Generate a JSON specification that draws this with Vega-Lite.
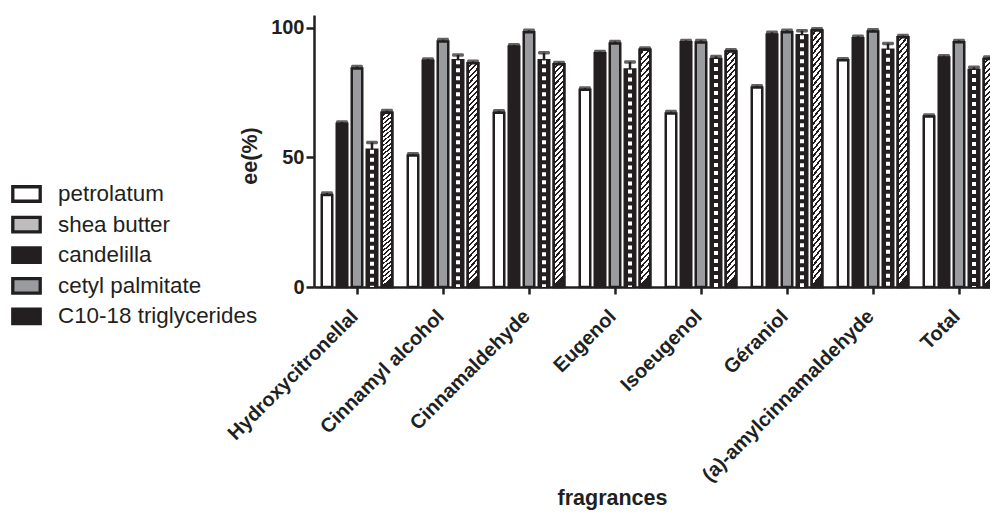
{
  "$schema": "https://vega.github.io/schema/vega-lite/v6.json",
  "width": 676,
  "height": 272,
  "autosize": {"type": "none"},
  "padding": {"left": 314, "top": 15, "right": 0, "bottom": 228},
  "background": "white",
  "config": {
    "view": {"stroke": null},
    "font": "Liberation Sans",
    "legend": {"symbolStrokeWidth": 3.3},
    "axis": {
      "grid": false,
      "domainColor": "#231f20",
      "domainWidth": 2.5,
      "tickColor": "#231f20",
      "tickWidth": 2.5,
      "labelFont": "Liberation Sans",
      "labelFontWeight": "bold",
      "labelFontSize": 20,
      "labelColor": "#231f20",
      "titleFont": "Liberation Sans",
      "titleFontWeight": "bold",
      "titleFontSize": 21.5,
      "titleColor": "#231f20"
    }
  },
  "data": {
    "values": [
      {"fragrance": "Hydroxycitronellal", "material": "petrolatum", "ee": 35.5, "upper": 36.3},
      {"fragrance": "Hydroxycitronellal", "material": "candelilla", "ee": 63, "upper": 63.7},
      {"fragrance": "Hydroxycitronellal", "material": "cetyl palmitate", "ee": 84.3, "upper": 85.1},
      {"fragrance": "Hydroxycitronellal", "material": "C10-18 triglycerides", "ee": 53, "upper": 55.8},
      {"fragrance": "Hydroxycitronellal", "material": "shea butter", "ee": 67.3, "upper": 68.1},
      {"fragrance": "Cinnamyl alcohol", "material": "petrolatum", "ee": 50.8, "upper": 51.4},
      {"fragrance": "Cinnamyl alcohol", "material": "candelilla", "ee": 87.3, "upper": 88},
      {"fragrance": "Cinnamyl alcohol", "material": "cetyl palmitate", "ee": 94.8, "upper": 95.5},
      {"fragrance": "Cinnamyl alcohol", "material": "C10-18 triglycerides", "ee": 87.5, "upper": 89.6},
      {"fragrance": "Cinnamyl alcohol", "material": "shea butter", "ee": 86.4, "upper": 87.1},
      {"fragrance": "Cinnamaldehyde", "material": "petrolatum", "ee": 67.3, "upper": 68},
      {"fragrance": "Cinnamaldehyde", "material": "candelilla", "ee": 92.8, "upper": 93.5},
      {"fragrance": "Cinnamaldehyde", "material": "cetyl palmitate", "ee": 98.3, "upper": 99.1},
      {"fragrance": "Cinnamaldehyde", "material": "C10-18 triglycerides", "ee": 87.5, "upper": 90.4},
      {"fragrance": "Cinnamaldehyde", "material": "shea butter", "ee": 86, "upper": 86.7},
      {"fragrance": "Eugenol", "material": "petrolatum", "ee": 76.1, "upper": 76.8},
      {"fragrance": "Eugenol", "material": "candelilla", "ee": 90.2, "upper": 90.9},
      {"fragrance": "Eugenol", "material": "cetyl palmitate", "ee": 94, "upper": 94.8},
      {"fragrance": "Eugenol", "material": "C10-18 triglycerides", "ee": 84, "upper": 86.9},
      {"fragrance": "Eugenol", "material": "shea butter", "ee": 91.6, "upper": 92.3},
      {"fragrance": "Isoeugenol", "material": "petrolatum", "ee": 67, "upper": 67.7},
      {"fragrance": "Isoeugenol", "material": "candelilla", "ee": 94.5, "upper": 95.2},
      {"fragrance": "Isoeugenol", "material": "cetyl palmitate", "ee": 94.4, "upper": 95.2},
      {"fragrance": "Isoeugenol", "material": "C10-18 triglycerides", "ee": 88, "upper": 89},
      {"fragrance": "Isoeugenol", "material": "shea butter", "ee": 90.9, "upper": 91.6},
      {"fragrance": "Géraniol", "material": "petrolatum", "ee": 77, "upper": 77.7},
      {"fragrance": "Géraniol", "material": "candelilla", "ee": 97.5, "upper": 98.3},
      {"fragrance": "Géraniol", "material": "cetyl palmitate", "ee": 98.3, "upper": 99.1},
      {"fragrance": "Géraniol", "material": "C10-18 triglycerides", "ee": 97.2, "upper": 98.9},
      {"fragrance": "Géraniol", "material": "shea butter", "ee": 99, "upper": 99.7},
      {"fragrance": "(a)-amylcinnamaldehyde", "material": "petrolatum", "ee": 87.5, "upper": 88.1},
      {"fragrance": "(a)-amylcinnamaldehyde", "material": "candelilla", "ee": 96, "upper": 96.8},
      {"fragrance": "(a)-amylcinnamaldehyde", "material": "cetyl palmitate", "ee": 98.6, "upper": 99.3},
      {"fragrance": "(a)-amylcinnamaldehyde", "material": "C10-18 triglycerides", "ee": 91.6, "upper": 94},
      {"fragrance": "(a)-amylcinnamaldehyde", "material": "shea butter", "ee": 96.4, "upper": 97.1},
      {"fragrance": "Total", "material": "petrolatum", "ee": 65.8, "upper": 66.4},
      {"fragrance": "Total", "material": "candelilla", "ee": 88.6, "upper": 89.3},
      {"fragrance": "Total", "material": "cetyl palmitate", "ee": 94.5, "upper": 95.2},
      {"fragrance": "Total", "material": "C10-18 triglycerides", "ee": 83.8, "upper": 84.8},
      {"fragrance": "Total", "material": "shea butter", "ee": 88, "upper": 88.8}
    ]
  },
  "encoding": {
    "x": {
      "field": "fragrance",
      "type": "nominal",
      "sort": ["Hydroxycitronellal", "Cinnamyl alcohol", "Cinnamaldehyde", "Eugenol", "Isoeugenol", "Géraniol", "(a)-amylcinnamaldehyde", "Total"],
      "scale": {"range": [0, 688], "paddingInner": 0, "paddingOuter": 0},
      "axis": {
        "title": "fragrances",
        "titleX": 298,
        "titleY": 217,
        "titleBaseline": "alphabetic",
        "titleAlign": "center",
        "labelAngle": -45,
        "labelAlign": "right",
        "labelBaseline": "middle",
        "tickSize": 7,
        "labelPadding": 19,
        "labelOffset": -2,
        "labelLimit": 400
      }
    },
    "xOffset": {
      "field": "material",
      "type": "nominal",
      "scale": {
        "domain": ["petrolatum", "candelilla", "cetyl palmitate", "C10-18 triglycerides", "shea butter"],
        "paddingInner": 0.3,
        "paddingOuter": 0.517
      }
    },
    "y": {
      "field": "ee",
      "type": "quantitative",
      "scale": {"domain": [0, 105], "nice": false},
      "axis": {
        "title": "ee(%)",
        "values": [0, 50, 100],
        "tickSize": 8,
        "labelPadding": 2,
        "titlePadding": 9,
        "titleY": 140.5
      }
    }
  },
  "layer": [
    {
      "mark": {"type": "bar", "strokeWidth": 2.5},
      "encoding": {
        "fill": {
          "field": "material",
          "type": "nominal",
          "scale": {
            "domain": ["petrolatum", "shea butter", "candelilla", "cetyl palmitate", "C10-18 triglycerides"],
            "range": ["#ffffff", "#bdbdbd", "#231f20", "#9a9b9e", "#231f20"]
          },
          "legend": {
            "orient": "none",
            "legendX": -303,
            "legendY": 163.5,
            "title": null,
            "symbolType": "M-1,-0.53H1V0.53H-1Z",
            "symbolSize": 751,
            "symbolStrokeWidth": 3.3,
            "symbolOpacity": 1,
            "labelFont": "Liberation Sans",
            "labelFontSize": 22.4,
            "labelColor": "#231f20",
            "labelOffset": 16,
            "labelLimit": 400,
            "rowPadding": 0.6
          }
        },
        "stroke": {
          "field": "material",
          "type": "nominal",
          "scale": {
            "domain": ["petrolatum", "shea butter", "candelilla", "cetyl palmitate", "C10-18 triglycerides"],
            "range": ["#231f20", "#231f20", "#231f20", "#231f20", "#231f20"]
          },
          "legend": {
            "orient": "none",
            "legendX": -303,
            "legendY": 163.5,
            "title": null,
            "symbolType": "M-1,-0.53H1V0.53H-1Z",
            "symbolSize": 751,
            "symbolStrokeWidth": 3.3,
            "symbolOpacity": 1,
            "labelFont": "Liberation Sans",
            "labelFontSize": 22.4,
            "labelColor": "#231f20",
            "labelOffset": 16,
            "labelLimit": 400,
            "rowPadding": 0.6
          }
        }
      }
    },
    {
      "transform": [{"filter": "datum.material === 'shea butter'"}],
      "mark": {
        "type": "bar",
        "stroke": "#231f20",
        "strokeWidth": 2.5,
        "fill": {
          "gradient": "linear", "x1": 0, "y1": 0, "x2": 0.05, "y2": 1,
          "stops": [
            {"offset": 0, "color": "#ffffff"}, {"offset": 0.015, "color": "#ffffff"}, {"offset": 0.015, "color": "#231f20"}, {"offset": 0.025, "color": "#231f20"},
            {"offset": 0.025, "color": "#ffffff"}, {"offset": 0.04, "color": "#ffffff"}, {"offset": 0.04, "color": "#231f20"}, {"offset": 0.05, "color": "#231f20"},
            {"offset": 0.05, "color": "#ffffff"}, {"offset": 0.065, "color": "#ffffff"}, {"offset": 0.065, "color": "#231f20"}, {"offset": 0.075, "color": "#231f20"},
            {"offset": 0.075, "color": "#ffffff"}, {"offset": 0.09, "color": "#ffffff"}, {"offset": 0.09, "color": "#231f20"}, {"offset": 0.1, "color": "#231f20"},
            {"offset": 0.1, "color": "#ffffff"}, {"offset": 0.115, "color": "#ffffff"}, {"offset": 0.115, "color": "#231f20"}, {"offset": 0.125, "color": "#231f20"},
            {"offset": 0.125, "color": "#ffffff"}, {"offset": 0.14, "color": "#ffffff"}, {"offset": 0.14, "color": "#231f20"}, {"offset": 0.15, "color": "#231f20"},
            {"offset": 0.15, "color": "#ffffff"}, {"offset": 0.165, "color": "#ffffff"}, {"offset": 0.165, "color": "#231f20"}, {"offset": 0.175, "color": "#231f20"},
            {"offset": 0.175, "color": "#ffffff"}, {"offset": 0.19, "color": "#ffffff"}, {"offset": 0.19, "color": "#231f20"}, {"offset": 0.2, "color": "#231f20"},
            {"offset": 0.2, "color": "#ffffff"}, {"offset": 0.215, "color": "#ffffff"}, {"offset": 0.215, "color": "#231f20"}, {"offset": 0.225, "color": "#231f20"},
            {"offset": 0.225, "color": "#ffffff"}, {"offset": 0.24, "color": "#ffffff"}, {"offset": 0.24, "color": "#231f20"}, {"offset": 0.25, "color": "#231f20"},
            {"offset": 0.25, "color": "#ffffff"}, {"offset": 0.265, "color": "#ffffff"}, {"offset": 0.265, "color": "#231f20"}, {"offset": 0.275, "color": "#231f20"},
            {"offset": 0.275, "color": "#ffffff"}, {"offset": 0.29, "color": "#ffffff"}, {"offset": 0.29, "color": "#231f20"}, {"offset": 0.3, "color": "#231f20"},
            {"offset": 0.3, "color": "#ffffff"}, {"offset": 0.315, "color": "#ffffff"}, {"offset": 0.315, "color": "#231f20"}, {"offset": 0.325, "color": "#231f20"},
            {"offset": 0.325, "color": "#ffffff"}, {"offset": 0.34, "color": "#ffffff"}, {"offset": 0.34, "color": "#231f20"}, {"offset": 0.35, "color": "#231f20"},
            {"offset": 0.35, "color": "#ffffff"}, {"offset": 0.365, "color": "#ffffff"}, {"offset": 0.365, "color": "#231f20"}, {"offset": 0.375, "color": "#231f20"},
            {"offset": 0.375, "color": "#ffffff"}, {"offset": 0.39, "color": "#ffffff"}, {"offset": 0.39, "color": "#231f20"}, {"offset": 0.4, "color": "#231f20"},
            {"offset": 0.4, "color": "#ffffff"}, {"offset": 0.415, "color": "#ffffff"}, {"offset": 0.415, "color": "#231f20"}, {"offset": 0.425, "color": "#231f20"},
            {"offset": 0.425, "color": "#ffffff"}, {"offset": 0.44, "color": "#ffffff"}, {"offset": 0.44, "color": "#231f20"}, {"offset": 0.45, "color": "#231f20"},
            {"offset": 0.45, "color": "#ffffff"}, {"offset": 0.465, "color": "#ffffff"}, {"offset": 0.465, "color": "#231f20"}, {"offset": 0.475, "color": "#231f20"},
            {"offset": 0.475, "color": "#ffffff"}, {"offset": 0.49, "color": "#ffffff"}, {"offset": 0.49, "color": "#231f20"}, {"offset": 0.5, "color": "#231f20"},
            {"offset": 0.5, "color": "#ffffff"}, {"offset": 0.515, "color": "#ffffff"}, {"offset": 0.515, "color": "#231f20"}, {"offset": 0.525, "color": "#231f20"},
            {"offset": 0.525, "color": "#ffffff"}, {"offset": 0.54, "color": "#ffffff"}, {"offset": 0.54, "color": "#231f20"}, {"offset": 0.55, "color": "#231f20"},
            {"offset": 0.55, "color": "#ffffff"}, {"offset": 0.565, "color": "#ffffff"}, {"offset": 0.565, "color": "#231f20"}, {"offset": 0.575, "color": "#231f20"},
            {"offset": 0.575, "color": "#ffffff"}, {"offset": 0.59, "color": "#ffffff"}, {"offset": 0.59, "color": "#231f20"}, {"offset": 0.6, "color": "#231f20"},
            {"offset": 0.6, "color": "#ffffff"}, {"offset": 0.615, "color": "#ffffff"}, {"offset": 0.615, "color": "#231f20"}, {"offset": 0.625, "color": "#231f20"},
            {"offset": 0.625, "color": "#ffffff"}, {"offset": 0.64, "color": "#ffffff"}, {"offset": 0.64, "color": "#231f20"}, {"offset": 0.65, "color": "#231f20"},
            {"offset": 0.65, "color": "#ffffff"}, {"offset": 0.665, "color": "#ffffff"}, {"offset": 0.665, "color": "#231f20"}, {"offset": 0.675, "color": "#231f20"},
            {"offset": 0.675, "color": "#ffffff"}, {"offset": 0.69, "color": "#ffffff"}, {"offset": 0.69, "color": "#231f20"}, {"offset": 0.7, "color": "#231f20"},
            {"offset": 0.7, "color": "#ffffff"}, {"offset": 0.715, "color": "#ffffff"}, {"offset": 0.715, "color": "#231f20"}, {"offset": 0.725, "color": "#231f20"},
            {"offset": 0.725, "color": "#ffffff"}, {"offset": 0.74, "color": "#ffffff"}, {"offset": 0.74, "color": "#231f20"}, {"offset": 0.75, "color": "#231f20"},
            {"offset": 0.75, "color": "#ffffff"}, {"offset": 0.765, "color": "#ffffff"}, {"offset": 0.765, "color": "#231f20"}, {"offset": 0.775, "color": "#231f20"},
            {"offset": 0.775, "color": "#ffffff"}, {"offset": 0.79, "color": "#ffffff"}, {"offset": 0.79, "color": "#231f20"}, {"offset": 0.8, "color": "#231f20"},
            {"offset": 0.8, "color": "#ffffff"}, {"offset": 0.815, "color": "#ffffff"}, {"offset": 0.815, "color": "#231f20"}, {"offset": 0.825, "color": "#231f20"},
            {"offset": 0.825, "color": "#ffffff"}, {"offset": 0.84, "color": "#ffffff"}, {"offset": 0.84, "color": "#231f20"}, {"offset": 0.85, "color": "#231f20"},
            {"offset": 0.85, "color": "#ffffff"}, {"offset": 0.865, "color": "#ffffff"}, {"offset": 0.865, "color": "#231f20"}, {"offset": 0.875, "color": "#231f20"},
            {"offset": 0.875, "color": "#ffffff"}, {"offset": 0.89, "color": "#ffffff"}, {"offset": 0.89, "color": "#231f20"}, {"offset": 0.9, "color": "#231f20"},
            {"offset": 0.9, "color": "#ffffff"}, {"offset": 0.915, "color": "#ffffff"}, {"offset": 0.915, "color": "#231f20"}, {"offset": 0.925, "color": "#231f20"},
            {"offset": 0.925, "color": "#ffffff"}, {"offset": 0.94, "color": "#ffffff"}, {"offset": 0.94, "color": "#231f20"}, {"offset": 0.95, "color": "#231f20"},
            {"offset": 0.95, "color": "#ffffff"}, {"offset": 0.965, "color": "#ffffff"}, {"offset": 0.965, "color": "#231f20"}, {"offset": 0.975, "color": "#231f20"},
            {"offset": 0.975, "color": "#ffffff"}, {"offset": 0.99, "color": "#ffffff"}, {"offset": 0.99, "color": "#231f20"}, {"offset": 1, "color": "#231f20"}
          ]
        }
      }
    },
    {
      "transform": [{"filter": "datum.material === 'C10-18 triglycerides'"}],
      "mark": {"type": "rule", "color": "#ffffff", "strokeWidth": 4, "strokeDash": [4, 4]},
      "encoding": {"y2": {"datum": 0}}
    },
    {
      "mark": {"type": "rule", "color": "#231f20", "strokeWidth": 2.5},
      "encoding": {"y2": {"field": "upper"}}
    },
    {
      "mark": {"type": "tick", "color": "#231f20", "thickness": 3.5, "size": 12, "cornerRadius": 1.5},
      "encoding": {"y": {"field": "upper", "type": "quantitative"}}
    }
  ]
}
